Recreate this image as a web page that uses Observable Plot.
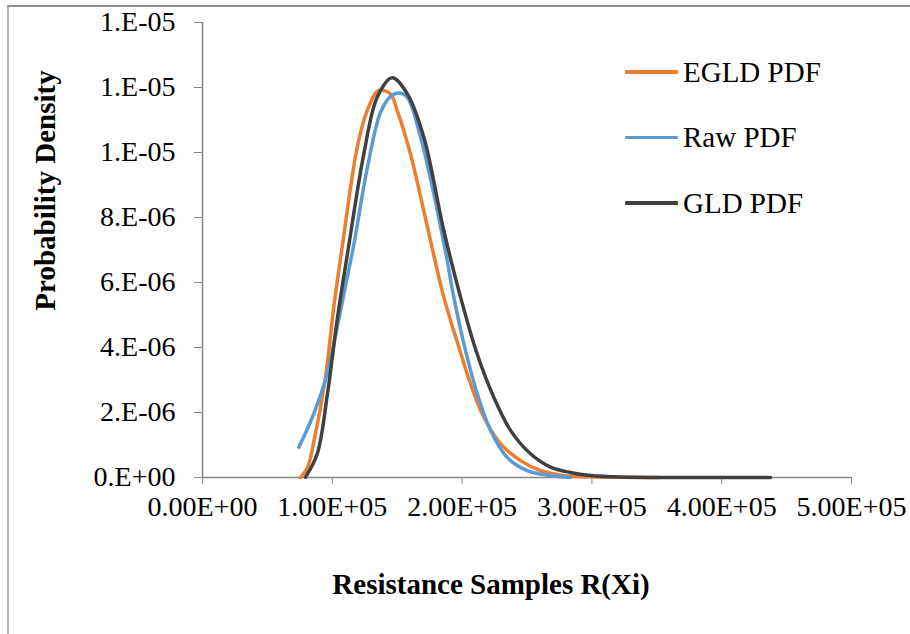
<!DOCTYPE html>
<html>
<head>
<meta charset="utf-8">
<script src="https://cdn.jsdelivr.net/npm/d3@7"></script>
<script src="https://cdn.jsdelivr.net/npm/@observablehq/plot@0.6"></script>
<style>
  html, body { margin: 0; padding: 0; background: #fff; }
  #wrap { position: relative; width: 910px; height: 634px; overflow: hidden; }
  #frame { position: absolute; left: 7px; top: 5px; width: 910px; height: 640px;
           border-left: 2px solid #b3b3b3; border-top: 2px solid #8c8c8c; pointer-events: none; }
  #legend { position: absolute; left: 625px; top: 55px; font-family: "Liberation Serif", "Times New Roman", serif; font-size: 29px; color: #000; }
  .item { display: flex; align-items: center; height: 34px; margin-bottom: 31.5px; }
  .sw { width: 53px; height: 3.5px; margin-right: 5px; border-radius: 1px; }
</style>
</head>
<body>
<div id="wrap"><div id="chart"></div><div id="legend"></div><div id="frame"></div></div>
<script>
// ---- data ----
const seriesNames = ["EGLD PDF", "Raw PDF", "GLD PDF"];
const seriesColors = ["#ED7D31", "#5B9BD5", "#404040"];

const egldX = [75500, 80900, 85500, 94800, 100900, 107600, 119200, 126900, 135800, 144800, 150000, 160200, 170500, 185900, 197500, 206500, 216700, 229600, 245000, 260400, 275800, 299000, 352000];
const egldY = [0, 0.31e-6, 1.05e-6, 3.09e-6, 5.17e-6, 7.09e-6, 1.016e-5, 1.129e-5, 1.191e-5, 1.18e-5, 1.129e-5, 9.96e-6, 8.2e-6, 5.55e-6, 4.01e-6, 2.88e-6, 1.86e-6, 1.04e-6, 0.52e-6, 0.215e-6, 0.07e-6, 0.02e-6, 0];

const rawX = [74200, 85700, 96100, 103800, 111500, 116600, 126900, 137100, 144800, 151200, 157700, 168000, 178200, 188500, 193600, 202600, 211600, 221900, 234700, 250100, 268100, 283500];
const rawY = [0.93e-6, 1.96e-6, 3.19e-6, 4.63e-6, 6.16e-6, 7.17e-6, 9.51e-6, 1.123e-5, 1.172e-5, 1.183e-5, 1.17e-5, 1.047e-5, 8.73e-6, 6.68e-6, 5.55e-6, 3.91e-6, 2.58e-6, 1.45e-6, 0.62e-6, 0.215e-6, 0.06e-6, 0];

const gldX = [79400, 88400, 96100, 103800, 112500, 124300, 134600, 146100, 157700, 170500, 185900, 198800, 211600, 224400, 237300, 252700, 268100, 283500, 298900, 322000, 437600];
const gldY = [0.01e-6, 0.73e-6, 2.52e-6, 4.86e-6, 7.09e-6, 9.96e-6, 1.17e-5, 1.23e-5, 1.181e-5, 1.047e-5, 7.6e-6, 5.55e-6, 3.8e-6, 2.47e-6, 1.45e-6, 0.73e-6, 0.32e-6, 0.154e-6, 0.062e-6, 0.015e-6, 0];

const xTicks = [0, 100000, 200000, 300000, 400000, 500000];
const xTickLabels = ["0.00E+00", "1.00E+05", "2.00E+05", "3.00E+05", "4.00E+05", "5.00E+05"];
const yTicks = [0, 2e-6, 4e-6, 6e-6, 8e-6, 1e-5, 1.2e-5, 1.4e-5];
const yTickLabels = ["0.E+00", "2.E-06", "4.E-06", "6.E-06", "8.E-06", "1.E-05", "1.E-05", "1.E-05"];

const xTitle = "Resistance Samples R(Xi)";
const yTitle = "Probability Density";

// ---- build table ----
const allX = [egldX, rawX, gldX];
const allY = [egldY, rawY, gldY];
const rows = [];
allX.forEach((xs, s) => xs.forEach((x, i) => rows.push({ series: seriesNames[s], x, y: allY[s][i] })));

const serif = '"Liberation Serif", "Times New Roman", serif';
const axisGrey = "#868686";

const chart = Plot.plot({
  width: 910,
  height: 634,
  marginLeft: 202,
  marginRight: 59,
  marginTop: 22,
  marginBottom: 157,
  style: { fontFamily: serif, fontSize: "28px", color: "#000", background: "transparent" },
  x: { domain: [0, 500000] },
  y: { domain: [0, 1.4e-5] },
  color: { domain: seriesNames, range: seriesColors },
  marks: [
    Plot.ruleX([0], { stroke: axisGrey, strokeWidth: 1.5 }),
    Plot.ruleY([0], { stroke: axisGrey, strokeWidth: 1.5 }),
    Plot.axisY({ ticks: yTicks, tickFormat: (d, i) => yTickLabels[i], tickSize: 8, tickPadding: 19, stroke: axisGrey, label: null, fill: "#000", fontSize: 28 }),
    Plot.axisX({ ticks: xTicks, tickFormat: (d, i) => xTickLabels[i], tickSize: 7, tickPadding: 12, stroke: axisGrey, label: null, fill: "#000", fontSize: 28 }),
    Plot.line(rows, { x: "x", y: "y", z: "series", stroke: "series", strokeWidth: 3.5, curve: "catmull-rom" }),
    Plot.text([yTitle], { frameAnchor: "left", textAnchor: "middle", lineAnchor: "middle", dx: -157, dy: -59.5, rotate: -90, fontWeight: "bold", fontSize: 29, fill: "#000" }),
    Plot.text([xTitle], { frameAnchor: "bottom", textAnchor: "middle", lineAnchor: "middle", dy: 107, dx: -36, fontWeight: "bold", fontSize: 29, fill: "#000" })
  ]
});
document.getElementById("chart").appendChild(chart);

// ---- legend ----
const leg = document.getElementById("legend");
seriesNames.forEach((n, i) => {
  const d = document.createElement("div");
  d.className = "item";
  const sw = document.createElement("div");
  sw.className = "sw";
  sw.style.background = seriesColors[i];
  const t = document.createElement("span");
  t.textContent = n;
  d.appendChild(sw); d.appendChild(t);
  leg.appendChild(d);
});
</script>
</body>
</html>
